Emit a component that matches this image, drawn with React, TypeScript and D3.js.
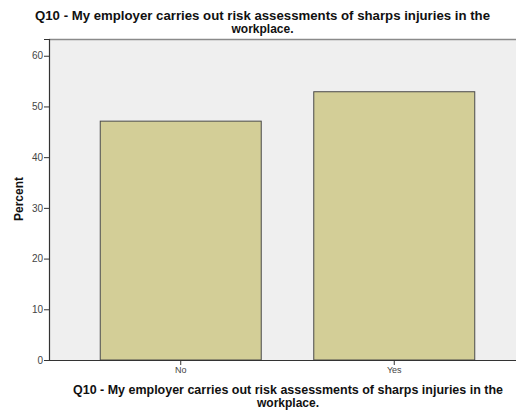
import React, { useEffect, useRef } from 'react';
import * as d3 from 'd3';

const categories = ['No', 'Yes'];
const percents = [47.1, 52.9];
const yTicks = [0, 10, 20, 30, 40, 50, 60];
const titleLines = [
  'Q10 - My employer carries out risk assessments of sharps injuries in the',
  'workplace.',
];

const W = 516;
const H = 413;
const FONT = 'Arial, "Liberation Sans", sans-serif';

const App: React.FC = () => {
  const svgRef = useRef<SVGSVGElement>(null);

  useEffect(() => {
    document.body.style.margin = '0';
    if (!svgRef.current) return;
    const svg = d3.select(svgRef.current);
    svg.selectAll('*').remove();

    // plot frame (right side runs past the window, as in the original export)
    const left = 49;
    const right = 526;
    const top = 39;
    const bottom = 360;

    const x = d3
      .scaleBand<string>()
      .domain(categories)
      .range([left, right])
      .paddingInner(0.246)
      .paddingOuter(0.24);

    const y = d3.scaleLinear().domain([0, 63.3]).range([bottom, top]);

    // background
    svg
      .append('rect')
      .attr('x', left)
      .attr('y', top)
      .attr('width', right - left)
      .attr('height', bottom - top)
      .style('fill', '#efefef');

    svg
      .append('line')
      .attr('x1', left)
      .attr('x2', right)
      .attr('y1', top + 0.5)
      .attr('y2', top + 0.5)
      .style('stroke', '#8a8a8a')
      .style('stroke-width', 1.5);

    // bars
    svg
      .selectAll('.bar')
      .data(percents)
      .enter()
      .append('rect')
      .attr('class', 'bar')
      .attr('x', (_d, i) => x(categories[i])!)
      .attr('y', (d) => y(d))
      .attr('width', x.bandwidth())
      .attr('height', (d) => bottom - y(d))
      .style('fill', '#d3ce97')
      .style('stroke', '#4a4a4a')
      .style('stroke-width', 1);

    // y axis
    const yAxis = svg
      .append('g')
      .attr('transform', `translate(${left},0)`)
      .call(d3.axisLeft(y).tickValues(yTicks).tickSize(5).tickPadding(1));
    yAxis.select('.domain').style('stroke', '#333').style('stroke-width', 1.2);
    yAxis.selectAll('.tick line').style('stroke', '#333');
    yAxis
      .selectAll('.tick text')
      .style('font-family', FONT)
      .style('font-size', '10px')
      .style('fill', '#444');

    // x axis
    const xAxis = svg
      .append('g')
      .attr('transform', `translate(0,${bottom})`)
      .call(d3.axisBottom(x).tickSize(5).tickSizeOuter(0).tickPadding(2));
    xAxis.select('.domain').style('stroke', '#333').style('stroke-width', 1.2);
    xAxis.selectAll('.tick line').style('stroke', '#333');
    xAxis
      .selectAll('.tick text')
      .style('font-family', FONT)
      .style('font-size', '9px')
      .style('fill', '#444');

    const bold = (sel: d3.Selection<SVGTextElement, unknown, null, undefined>) =>
      sel
        .attr('text-anchor', 'middle')
        .style('font-family', FONT)
        .style('font-weight', 'bold')
        .style('font-size', '12px')
        .style('fill', '#111');

    // chart title
    titleLines.forEach((t, i) => {
      const el = bold(svg.append('text')).attr('x', 262.5).attr('y', 20 + i * 13).text(t);
      if (i === 0) el.attr('textLength', 455).attr('lengthAdjust', 'spacingAndGlyphs');
    });

    // x title
    titleLines.forEach((t, i) => {
      const el = bold(svg.append('text'))
        .attr('x', 288)
        .attr('y', 394 + i * 13)
        .text(t);
      if (i === 0) el.attr('textLength', 430).attr('lengthAdjust', 'spacingAndGlyphs');
    });

    // y title
    bold(svg.append('text'))
      .attr('transform', `translate(23,199) rotate(-90)`)
      .text('Percent');
  }, []);

  return <svg ref={svgRef} width={W} height={H} style={{ display: 'block', background: '#fff' }} />;
};

export default App;
